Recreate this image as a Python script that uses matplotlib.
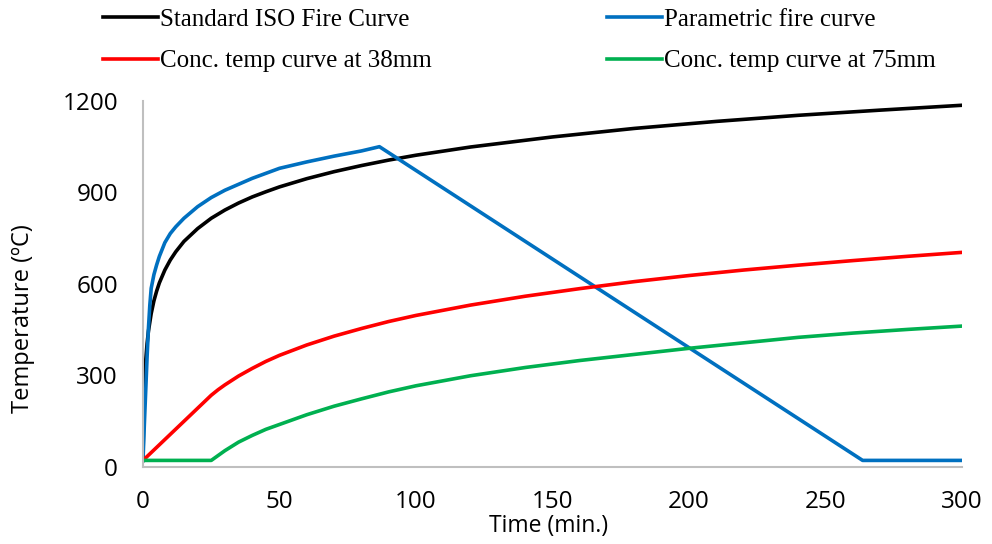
import matplotlib
matplotlib.use("Agg")
import matplotlib.pyplot as plt

# ---- data ----
iso_t = [0, 0.25, 0.5, 1, 1.5, 2, 3, 4, 5, 6, 8, 10, 12, 15, 20, 25, 30, 35, 40,
         45, 50, 60, 70, 80, 90, 100, 120, 150, 180, 210, 240, 270, 300]
iso_T = [20, 185, 261, 349, 404, 445, 502, 544, 576, 603, 645, 678, 705, 739, 781,
         815, 842, 865, 885, 902, 918, 945, 968, 988, 1006, 1022, 1049, 1082, 1110,
         1133, 1153, 1170, 1186]

par_t = [0, 0.5, 1, 1.5, 2, 2.5, 3, 4, 5, 6, 8, 10, 12, 15, 20, 25, 30, 40, 50,
         60, 70, 80, 86.6, 263.6, 300]
par_T = [20, 140, 250, 360, 455, 530, 585, 630, 662, 690, 735, 765, 787, 815, 853,
         883, 907, 946, 979, 1000, 1019, 1036, 1050, 20, 20]

c38_t = [0, 25, 27.5, 30, 35, 40, 45, 50, 60, 70, 80, 90, 100, 120, 140, 160, 180,
         200, 220, 240, 260, 280, 300]
c38_T = [20, 234, 252, 268, 297, 322, 345, 365, 399, 428, 453, 476, 496, 530, 559,
         584, 607, 627, 645, 661, 676, 690, 703]

c75_t = [0, 25, 27.5, 30, 35, 40, 45, 50, 60, 70, 80, 90, 100, 120, 140, 160, 180,
         200, 220, 240, 260, 280, 300]
c75_T = [20, 20, 36, 52, 80, 102, 122, 138, 170, 198, 222, 245, 265, 298, 325, 348,
         368, 388, 406, 424, 438, 450, 461]

labels = ["Standard ISO Fire Curve", "Parametric fire curve",
          "Conc. temp curve at 38mm", "Conc. temp curve at 75mm"]
colors = ["#000000", "#0070C0", "#FF0000", "#00B050"]

x_ticks = [0, 50, 100, 150, 200, 250, 300]
y_ticks = [0, 300, 600, 900, 1200]

# ---- figure ----
fig = plt.figure(figsize=(9.92, 5.44), dpi=100)
ax = fig.add_axes([143/992, 1-466.5/544, (962-143)/992, (466.5-101)/544])

lw = 2.6
h_iso, = ax.plot(iso_t, iso_T, color=colors[0], lw=lw, solid_joinstyle="round")
h_par, = ax.plot(par_t, par_T, color=colors[1], lw=lw, solid_joinstyle="round")
h_38, = ax.plot(c38_t, c38_T, color=colors[2], lw=lw, solid_joinstyle="round")
h_75, = ax.plot(c75_t, c75_T, color=colors[3], lw=lw, solid_joinstyle="round")

ax.set_xlim(0, 300)
ax.set_ylim(0, 1200)
ax.set_xticks(x_ticks)
ax.set_yticks(y_ticks)

tick_font = "Open Sans"
for lab in ax.get_xticklabels() + ax.get_yticklabels():
    lab.set_fontfamily(tick_font)
    lab.set_fontsize(17.5)
ax.tick_params(axis="both", length=0, colors="#000000")
ax.tick_params(axis="y", pad=18)
ax.tick_params(axis="x", pad=17)

for s in ["top", "right"]:
    ax.spines[s].set_visible(False)
for s in ["left", "bottom"]:
    ax.spines[s].set_color("#BFBFBF")
    ax.spines[s].set_linewidth(1.5)

ax.set_xlabel("Time (min.)", fontfamily=tick_font, fontsize=16.5)
ax.xaxis.set_label_coords((549 - 143) / 819, -(514 - 466.5) / 365.5)
ax.set_ylabel("Temperature (ºC)", fontfamily=tick_font, fontsize=17)
ax.yaxis.set_label_coords((35 - 143) / 819, (466.5 - 319) / 365.5)

leg = fig.legend([h_iso, h_38, h_par, h_75],
                 [labels[0], labels[2], labels[1], labels[3]],
                 ncol=2, loc="upper left", bbox_to_anchor=(100/992, 1 - 6/544),
                 frameon=False, prop={"family": "Liberation Serif", "size": 18},
                 handlelength=2.2, handletextpad=0.1, columnspacing=7.0,
                 labelspacing=0.75, borderaxespad=0.0, borderpad=0.1)

fig.savefig("out.png", dpi=100)
